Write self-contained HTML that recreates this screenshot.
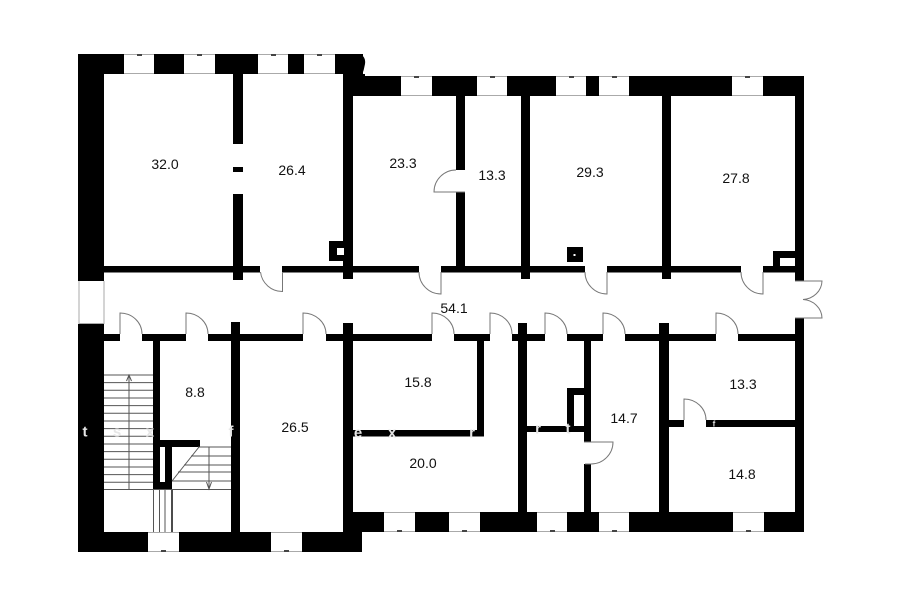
<!DOCTYPE html>
<html><head><meta charset="utf-8"><style>
html,body{margin:0;padding:0;background:#fff;width:900px;height:604px;overflow:hidden}
svg{display:block}
text.l{font:14px "Liberation Sans",Arial,sans-serif;fill:#111;text-anchor:middle;dominant-baseline:central}
text.g{font:bold 15px "Liberation Sans",Arial,sans-serif;fill:#e6e6e6;text-anchor:middle;dominant-baseline:central}
</style></head><body>
<svg width="900" height="604" viewBox="0 0 900 604" xmlns="http://www.w3.org/2000/svg">
<rect width="900" height="604" fill="#fff"/>
<g fill="#000">
<!-- outer walls -->
<rect x="78" y="54" width="285" height="20"/>
<rect x="78" y="54" width="26" height="227"/>
<rect x="343" y="74" width="22" height="2"/>
<path d="M360 54Q366 57 365 64Q364 70 362 75H355V54Z"/>
<rect x="343" y="76" width="461" height="20"/>
<rect x="795" y="76" width="9" height="205"/>
<rect x="78" y="324" width="26" height="228"/>
<rect x="78" y="532" width="284" height="20"/>
<rect x="343" y="512" width="461" height="20"/>
<rect x="343" y="512" width="19" height="40"/>
<rect x="795" y="318" width="9" height="214"/>
<!-- upper verticals -->
<rect x="233" y="74" width="10" height="70"/>
<rect x="233" y="167" width="10" height="5"/>
<rect x="233" y="194" width="10" height="86"/>
<rect x="343" y="74" width="10" height="205"/>
<rect x="456" y="96" width="9" height="74"/>
<rect x="456" y="192" width="9" height="74"/>
<rect x="521" y="96" width="9" height="183"/>
<rect x="662" y="96" width="9" height="183"/>
<!-- upper corridor wall -->
<rect x="104" y="266" width="156" height="6.5"/>
<rect x="282" y="266" width="137" height="6.5"/>
<rect x="441" y="266" width="144" height="6.5"/>
<rect x="607" y="266" width="134" height="6.5"/>
<rect x="763" y="266" width="32" height="6.5"/>
<!-- lower corridor wall -->
<rect x="104" y="334" width="16" height="7"/>
<rect x="142" y="334" width="44" height="7"/>
<rect x="208" y="334" width="95" height="7"/>
<rect x="326" y="334" width="106" height="7"/>
<rect x="454" y="334" width="36" height="7"/>
<rect x="512" y="334" width="33" height="7"/>
<rect x="567" y="334" width="36" height="7"/>
<rect x="625" y="334" width="91" height="7"/>
<rect x="738" y="334" width="57" height="7"/>
<!-- lower verticals -->
<rect x="231" y="322" width="9" height="210"/>
<rect x="343" y="323" width="10" height="189"/>
<rect x="518" y="323" width="9" height="189"/>
<rect x="659" y="323" width="10" height="189"/>
<!-- stair walls -->
<rect x="153" y="341" width="7" height="149"/>
<rect x="153" y="440" width="47" height="7"/>
<rect x="165" y="447" width="7" height="43"/>
<rect x="153" y="482" width="19" height="8"/>
<!-- room 15.8 / 20.0 -->
<rect x="477" y="341" width="7" height="95.5"/>
<rect x="353" y="430" width="131" height="6.5"/>
<!-- cluster -->
<rect x="584" y="341" width="7" height="101"/>
<rect x="584" y="464" width="7" height="48"/>
<rect x="527" y="426" width="57" height="6"/>
<rect x="567" y="388" width="17" height="44"/>
<!-- 13.3/14.8 -->
<rect x="669" y="420" width="15" height="7"/>
<rect x="706" y="420" width="89" height="7"/>
<!-- chimneys -->
<rect x="329" y="241" width="14" height="20"/>
<rect x="567" y="247" width="16" height="15"/>
<rect x="773" y="251" width="22" height="15"/>
</g>
<g fill="#fff">
<rect x="337" y="248" width="7" height="7"/>
<rect x="573.5" y="254" width="2" height="2"/>
<rect x="780" y="258" width="15" height="8"/>
<rect x="574" y="395" width="10" height="31"/>
<!-- top windows -->
<rect x="124" y="54" width="30" height="20"/>
<rect x="184" y="54" width="31" height="20"/>
<rect x="258" y="54" width="30" height="20"/>
<rect x="304" y="54" width="31" height="20"/>
<rect x="401" y="76" width="31" height="20"/>
<rect x="477" y="76" width="30" height="20"/>
<rect x="556" y="76" width="30" height="20"/>
<rect x="599" y="76" width="30" height="20"/>
<rect x="732" y="76" width="31" height="20"/>
<!-- bottom windows -->
<rect x="148" y="532" width="31" height="20"/>
<rect x="271" y="532" width="31" height="20"/>
<rect x="384" y="512" width="31" height="20"/>
<rect x="449" y="512" width="31" height="20"/>
<rect x="537" y="512" width="30" height="20"/>
<rect x="599" y="512" width="30" height="20"/>
<rect x="733" y="512" width="31" height="20"/>
</g>
<!-- window edge lines -->
<g stroke="#aaa" stroke-width="1" fill="none">
<path d="M124 54.5H154M124 73.5H154M184 54.5H215M184 73.5H215M258 54.5H288M258 73.5H288M304 54.5H335M304 73.5H335"/>
<path d="M401 76.5H432M401 95.5H432M477 76.5H507M477 95.5H507M556 76.5H586M556 95.5H586M599 76.5H629M599 95.5H629M732 76.5H763M732 95.5H763"/>
<path d="M148 532.5H179M148 551.5H179M271 532.5H302M271 551.5H302"/>
<path d="M384 512.5H415M384 531.5H415M449 512.5H480M449 531.5H480M537 512.5H567M537 531.5H567M599 512.5H629M599 531.5H629M733 512.5H764M733 531.5H764"/>
<path d="M79 281V324M79 323.500H104M104 281V324"/>
</g>
<g fill="#444">
<rect x="137" y="54" width="5" height="2"/><rect x="197" y="54" width="5" height="2"/><rect x="271" y="54" width="5" height="2"/><rect x="317" y="54" width="5" height="2"/>
<rect x="414" y="76" width="5" height="2"/><rect x="490" y="76" width="5" height="2"/><rect x="569" y="76" width="5" height="2"/><rect x="612" y="76" width="5" height="2"/><rect x="745" y="76" width="5" height="2"/>
<rect x="161" y="550" width="5" height="2"/><rect x="284" y="550" width="5" height="2"/>
<rect x="397" y="530" width="5" height="2"/><rect x="462" y="530" width="5" height="2"/><rect x="550" y="530" width="5" height="2"/><rect x="612" y="530" width="5" height="2"/><rect x="746" y="530" width="5" height="2"/>
</g>
<!-- doors -->
<g stroke="#777" stroke-width="1" fill="none">
<path d="M282.500 272V291.500A22 22 0 0 1 260.500 272"/>
<path d="M441 272V294A22 22 0 0 1 419 272"/>
<path d="M607 272V294A22 22 0 0 1 585 272"/>
<path d="M763 272V294A22 22 0 0 1 741 272"/>
<path d="M456 170A22 22 0 0 0 434 192H465"/>
<path d="M120 334V313A22 21 0 0 1 142 334"/>
<path d="M186 334V313A22 21 0 0 1 208 334"/>
<path d="M303 334V313A23 21 0 0 1 326 334"/>
<path d="M432 334V313A22 21 0 0 1 454 334"/>
<path d="M490 334V313A22 21 0 0 1 512 334"/>
<path d="M545 334V313A22 21 0 0 1 567 334"/>
<path d="M603 334V313A22 21 0 0 1 625 334"/>
<path d="M716 334V313A22 21 0 0 1 738 334"/>
<path d="M684 420V399A22 21 0 0 1 706 420"/>
<path d="M584 442H613A22 22 0 0 1 591 464H585"/>
<path d="M795 281H822A20 19 0 0 1 803 299.500A20 19 0 0 1 822 318H795"/>
</g>
<!-- stairs -->
<g stroke="#555" stroke-width="1" fill="none">
<path d="M104 375H153M104 382.600H153M104 390.300H153M104 398H153M104 405.600H153M104 413.300H153M104 421H153M104 428.600H153M104 436.300H153M104 444H153M104 451.600H153M104 459.300H153M104 467H153M104 474.600H153M104 482.300H153"/>
<path d="M104 489.500H231"/>
<path d="M129 489V375M126.500 381L129 375L131.500 381"/>
<path d="M172 481L199 447"/>
<path d="M198 447H231M191 456H231M184 465H231M178 472H231M172 481H231"/>
<path d="M209 447V489M206.500 482L209 489L211.500 482"/>
<path d="M153.500 490V532M159.500 490V532M165 490V532"/>
</g>
<path d="M172 490V532" stroke="#111" stroke-width="1.500"/>
<!-- ghost watermark letters -->
<text class="g" x="85" y="432">t</text>
<text class="g" x="117" y="432">s</text>
<text class="g" x="150" y="432">x</text>
<text class="g" x="231" y="432">f</text>
<text class="g" x="358" y="433">e</text>
<text class="g" x="392" y="433">x</text>
<text class="g" x="472" y="433">r</text>
<text class="g" x="538" y="429">r</text>
<text class="g" x="568" y="429">t</text>
<text class="g" x="714" y="424" style="font-size:8px">f</text>
<!-- labels -->
<text class="l" x="165" y="164">32.0</text>
<text class="l" x="292" y="170">26.4</text>
<text class="l" x="403" y="163">23.3</text>
<text class="l" x="492" y="175">13.3</text>
<text class="l" x="590" y="172">29.3</text>
<text class="l" x="736" y="178">27.8</text>
<text class="l" x="454" y="308">54.1</text>
<text class="l" x="195" y="392">8.8</text>
<text class="l" x="295" y="427">26.5</text>
<text class="l" x="418" y="382">15.8</text>
<text class="l" x="423" y="463">20.0</text>
<text class="l" x="624" y="418">14.7</text>
<text class="l" x="743" y="384">13.3</text>
<text class="l" x="742" y="474">14.8</text>
</svg>
</body></html>
